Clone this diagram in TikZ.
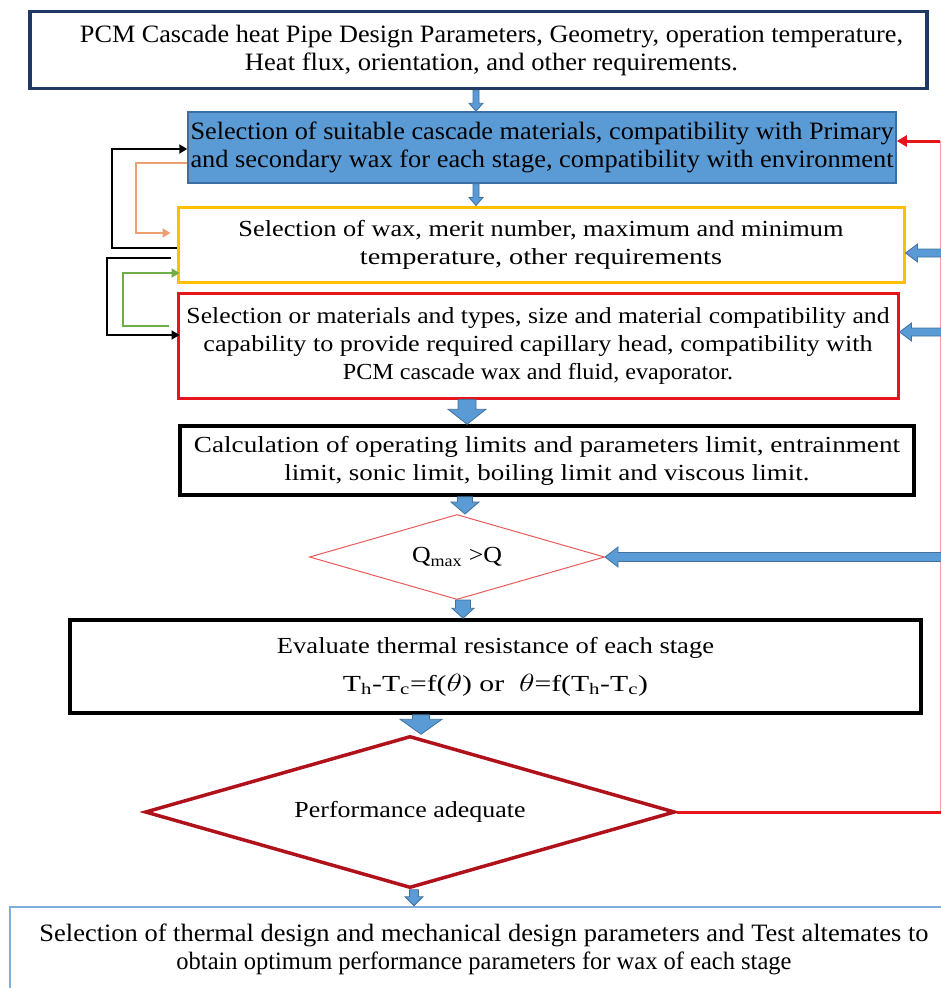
\documentclass[tikz,border=0pt]{standalone}
\usepackage{fontspec}
\setmainfont{Liberation Serif}
\usepackage{graphicx}
\usetikzlibrary{calc,shapes.geometric,arrows.meta}
\definecolor{navy}{HTML}{1F3864}
\definecolor{bfill}{HTML}{5B9BD5}
\definecolor{bline}{HTML}{3A6EA5}
\definecolor{ybox}{HTML}{FFC000}
\definecolor{rbox}{HTML}{E8141B}
\definecolor{dred}{HTML}{B0121C}
\definecolor{lred}{HTML}{E85A5A}
\definecolor{pinkl}{HTML}{F4A0A0}
\definecolor{orng}{HTML}{F0A070}
\definecolor{grn}{HTML}{70AD47}
\definecolor{lblue}{HTML}{7FAEDC}
\definecolor{arrfill}{HTML}{5B9BD5}
\definecolor{arrline}{HTML}{41719C}
\newcommand\fitline[2]{\resizebox{#1pt}{\height}{#2}}
\newcommand\fatdown[5]{\filldraw[blockarrow] let \p1=#1, \p2=#2 in
  (\x1-#3pt,\y1) -- (\x1+#3pt,\y1) -- (\x1+#3pt,\y2+#5pt) -- (\x1+#4pt,\y2+#5pt)
  -- (\x1,\y2) -- (\x1-#4pt,\y2+#5pt) -- (\x1-#3pt,\y2+#5pt) -- cycle;}
\newcommand\fatleft[5]{\filldraw[blockarrow] let \p1=#1, \p2=#2 in
  (\x1,\y1+#3pt) -- (\x2+#5pt,\y1+#3pt) -- (\x2+#5pt,\y1+#4pt) -- (\x2,\y1)
  -- (\x2+#5pt,\y1-#4pt) -- (\x2+#5pt,\y1-#3pt) -- (\x1,\y1-#3pt) -- cycle;}
\begin{document}
\begin{tikzpicture}[x=1pt,y=-1pt,
  box/.style={draw, rectangle, inner sep=0pt, align=center, font=\fontsize{23}{28}\selectfont},
  cbox/.style={box, font=\fontsize{25}{28}\selectfont},
  dia/.style={draw, diamond, inner sep=0pt, align=center, font=\fontsize{23}{28}\selectfont},
  blockarrow/.style={fill=arrfill, draw=arrline, line width=0.8pt, line join=miter},
  loopline/.style={line width=2pt, -{Triangle[length=8pt,width=9pt]}}]
\useasboundingbox (0,0) rectangle (941,988);
\clip (0,0) rectangle (941,988);
% boxes
\node[cbox, draw=navy, line width=3.5pt, minimum width=897pt, minimum height=77pt] (b1) at (478.5,50)
  {\hspace*{26pt}\fitline{823}{PCM Cascade heat Pipe Design Parameters, Geometry, operation temperature,}\\
   \hspace*{26pt}\fitline{493}{Heat flux, orientation, and other requirements.}};
\node[cbox, fill=bfill, draw=bline, line width=1.5pt, minimum width=708pt, minimum height=71pt] (b2) at (542,147.5)
  {\fitline{703}{Selection of suitable cascade materials, compatibility with Primary}\\
   \fitline{703}{and secondary wax for each stage, compatibility with environment}};
\node[box, draw=ybox, line width=3pt, minimum width=726pt, minimum height=75pt] (b3) at (541,244.5)
  {\fitline{605}{Selection of wax, merit number, maximum and minimum}\\
   \fitline{362}{temperature, other requirements}};
\node[box, draw=rbox, line width=3pt, minimum width=720pt, minimum height=105pt] (b4) at (538,345.5)
  {\fitline{703}{Selection or materials and types, size and material compatibility and}\\
   \fitline{669}{capability to provide required capillary head, compatibility with}\\
   \fitline{390}{PCM cascade wax and fluid, evaporator.}};
\node[box, draw=black, line width=3.5pt, minimum width=734pt, minimum height=69pt] (b5) at (547,460.5)
  {\fitline{706}{Calculation of operating limits and parameters limit, entrainment}\\
   \fitline{525}{limit, sonic limit, boiling limit and viscous limit.}};
\node[dia, aspect=3.47, draw=lred, line width=1pt, minimum width=295pt, minimum height=85pt] (d1) at (457,557)
  {\fitline{90}{Q\textsubscript{max} >Q}};
\node[box, draw=black, line width=3.5pt, minimum width=851pt, minimum height=93pt] (b6) at (495.5,666.5)
  {\fitline{437}{Evaluate thermal resistance of each stage}\\[10pt]
   \fitline{305}{T\textsubscript{h}-T\textsubscript{c}=f($\theta$) or\ \ $\theta$=f(T\textsubscript{h}-T\textsubscript{c})}};
\node[dia, aspect=3.49, draw=dred, line width=3.5pt, minimum width=530pt, minimum height=152pt] (d2) at (410,812)
  {\fitline{231}{Performance adequate}};
\node[cbox, draw=lblue, line width=2.5pt, minimum width=948pt, minimum height=84pt] (b7) at (484,949)
  {\fitline{889}{Selection of thermal design and mechanical design parameters and Test altemates to}\\
   \fitline{615}{obtain optimum performance parameters for wax of each stage}};
% coordinates
\coordinate (xa) at (476,0);
\coordinate (xb) at (467,0);
\coordinate (xc) at (465,0);
\coordinate (xd) at (463,0);
\coordinate (xe) at (421,0);
\coordinate (xf) at (414,0);
\coordinate (rtop) at (940,141);
\coordinate (rbot) at (940,812);
\coordinate (r3) at (942,253);
\coordinate (r4) at (942,332);
\coordinate (r5) at (942,557);
% down arrows
\fatdown{(b1.south -| xa)}{(b2.north)}{3}{7}{8}
\fatdown{(b2.south -| xa)}{(b3.north)}{3}{7}{8}
\fatdown{(b4.south -| xb)}{(b5.north)}{9}{19}{15}
\fatdown{(b5.south -| xc)}{(d1.north)}{7.5}{14}{12}
\fatdown{(d1.south -| xd)}{(b6.north)}{7.5}{11}{10}
\fatdown{(b6.south -| xe)}{(d2.north)}{8.5}{21}{15}
\fatdown{(d2.south -| xf)}{(b7.north)}{4.5}{9}{9}
% right side
\draw[pinkl, line width=1pt] (rtop) -- (rbot);
\draw[rbox, line width=3pt, -{Triangle[length=10pt,width=11pt]}] (rtop) -- ([yshift=6.5pt]b2.east);
\draw[rbox, line width=3pt] (d2.east) -- ++(270,0);
\fatleft{(r3)}{(b3.east)}{4}{9}{12}
\fatleft{(r4)}{([yshift=13.5pt]b4.east)}{4}{9}{12}
\fatleft{(r5)}{(d1.east)}{4.5}{10}{13}
% left loops
\draw[loopline, black] ([yshift=-3.5pt]b3.west) -- ++(-65,0) |- ([yshift=-1.5pt]b2.west);
\draw[loopline, orng] ([yshift=-15.5pt]b2.west) -- ++(-51,0) |- ([xshift=-6pt,yshift=11.5pt]b3.west);
\draw[loopline, black] ([xshift=-6pt,yshift=-13.5pt]b3.west) -- ++(-64,0) |- ([xshift=3pt,yshift=10.5pt]b4.west);
\draw[loopline, grn] ([xshift=-8pt,yshift=19.5pt]b4.west) -- ++(-46,0) |- ([xshift=3pt,yshift=-28.5pt]b3.west);
\end{tikzpicture}
\end{document}
